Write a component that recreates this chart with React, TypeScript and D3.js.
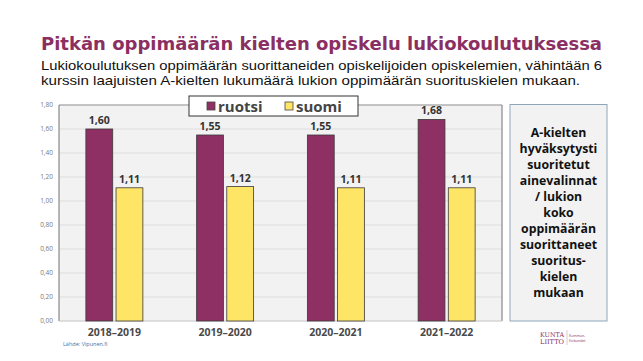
import React from "react";
import * as d3 from "d3";

const categories = ["2018–2019", "2019–2020", "2020–2021", "2021–2022"];
const seriesNames = ["ruotsi", "suomi"];
const ruotsiValues = [1.6, 1.55, 1.55, 1.68];
const suomiValues = [1.11, 1.12, 1.11, 1.11];
const yTicks = [0, 0.2, 0.4, 0.6, 0.8, 1.0, 1.2, 1.4, 1.6, 1.8];
const titleText = "Pitkän oppimäärän kielten opiskelu lukiokoulutuksessa";
const subtitleLines = [
  "Lukiokoulutuksen oppimäärän suorittaneiden opiskelijoiden opiskelemien, vähintään 6",
  "kurssin laajuisten A-kielten lukumäärä lukion oppimäärän suorituskielen mukaan.",
];
const noteLines = [
  "A-kielten",
  "hyväksytysti",
  "suoritetut",
  "ainevalinnat",
  "/ lukion",
  "koko",
  "oppimäärän",
  "suorittaneet",
  "suoritus-",
  "kielen",
  "mukaan",
];
const sourceText = "Lähde: Vipunen.fi";

const colors = ["#8E3063", "#FFE566"];
const fmt = (v: number) => v.toFixed(2).replace(".", ",");

export default function App() {
  const W = 643, H = 361;
  const left = 59, right = 502, top = 105, bottom = 321;
  const x0 = d3.scaleBand<string>().domain(categories).range([left, right]).paddingInner(0).paddingOuter(0);
  const x1 = d3.scaleBand<string>().domain(seriesNames).range([0, 57]).paddingInner(0.11);
  const y = d3.scaleLinear().domain([0, 1.8]).range([bottom, top]);
  const series = [ruotsiValues, suomiValues];
  const groupOffset = (x0.bandwidth() - 57) / 2;

  return (
    <svg width={W} height={H} style={{ position: "absolute", left: 0, top: 0 }} xmlns="http://www.w3.org/2000/svg">
      <rect x={0} y={0} width={W} height={H} fill="#ffffff" />
      <text x={41} y={50} fontFamily="'DejaVu Sans', sans-serif" fontWeight="bold" fontSize={18} fill="#8B2F62" textLength={561} lengthAdjust="spacingAndGlyphs">{titleText}</text>
      {subtitleLines.map((l, i) => (
        <text key={i} x={41} y={69.5 + i * 15} fontFamily="'Liberation Sans', Arial, sans-serif" fontSize={13} fill="#111" textLength={i === 0 ? 561 : 539} lengthAdjust="spacingAndGlyphs">{l}</text>
      ))}

      <rect x={left} y={top} width={right - left} height={bottom - top} fill="#F2F2F2" />
      {yTicks.map((t) => (
        <g key={t}>
          <line x1={left} x2={right} y1={y(t)} y2={y(t)} stroke="#DEDEDE" strokeWidth={1} />
          <text x={53} y={y(t) + 2.3} textAnchor="end" fontFamily="'Open Sans', sans-serif" fontSize={6.5} fill="#7a7a7a">{fmt(t)}</text>
        </g>
      ))}
      <line x1={left} x2={right} y1={top} y2={top} stroke="#999" strokeWidth={1} />
      <line x1={left} x2={left} y1={top} y2={bottom} stroke="#888" strokeWidth={1.2} />
      <line x1={right} x2={right} y1={top} y2={bottom} stroke="#888" strokeWidth={1.2} />
      <line x1={left} x2={right} y1={bottom} y2={bottom} stroke="#D0D0D0" strokeWidth={1} />

      {categories.map((c, ci) => (
        <g key={c} transform={`translate(${(x0(c) as number) + groupOffset},0)`}>
          {seriesNames.map((s, si) => {
            const v = series[si][ci];
            const bx = x1(s) as number;
            return (
              <g key={s}>
                <rect x={bx} y={y(v)} width={x1.bandwidth()} height={bottom - y(v)} fill={colors[si]} stroke="#3a3a3a" strokeWidth={0.8} />
                <text x={bx + x1.bandwidth() / 2} y={y(v) - 5} textAnchor="middle" fontFamily="'Open Sans', sans-serif" fontWeight="bold" fontSize={10.5} fill="#333">{fmt(v)}</text>
              </g>
            );
          })}
        </g>
      ))}
      {categories.map((c) => (
        <text key={c} x={(x0(c) as number) + x0.bandwidth() / 2} y={336} textAnchor="middle" fontFamily="'Open Sans', sans-serif" fontWeight="bold" fontSize={10.5} fill="#4a4a4a">{c}</text>
      ))}

      <rect x={189} y={96} width={169} height={20} fill="#ffffff" stroke="#333" strokeWidth={1} />
      {seriesNames.map((s, i) => (
        <g key={s} transform={`translate(${i === 0 ? 207 : 285},0)`}>
          <rect x={0} y={102} width={8} height={8} fill={colors[i]} stroke="#444" strokeWidth={0.8} />
          <text x={11} y={111.5} fontFamily="'Open Sans', sans-serif" fontWeight="bold" fontSize={15} fill="#444">{s}</text>
        </g>
      ))}

      <rect x={510} y={104.5} width={97} height={216.5} fill="#F2F2F2" stroke="#8FA6BA" strokeWidth={1} />
      {noteLines.map((l, i) => (
        <text key={i} x={558.5} y={137 + i * 16} textAnchor="middle" fontFamily="'Open Sans', sans-serif" fontWeight="bold" fontSize={12.3} fill="#111">{l}</text>
      ))}

      <text x={63} y={345.5} fontFamily="'Open Sans', sans-serif" fontSize={5.5} fill="#4a6fa5">{sourceText}</text>

      <text x={540} y={336.5} fontFamily="'DejaVu Serif', serif" fontSize={6.5} fill="#8B2F62" textLength={24} lengthAdjust="spacingAndGlyphs">KUNTA</text>
      <text x={540} y={344} fontFamily="'DejaVu Serif', serif" fontSize={6.5} fill="#8B2F62" textLength={24} lengthAdjust="spacingAndGlyphs">LIITTO</text>
      <line x1={567} x2={567} y1={330} y2={345} stroke="#c9a5b8" strokeWidth={0.6} />
      <text x={569} y={336.5} fontFamily="'Open Sans', sans-serif" fontSize={3.5} fill="#8B2F62">Kommun-</text>
      <text x={569} y={342} fontFamily="'Open Sans', sans-serif" fontSize={3.5} fill="#8B2F62">förbundet</text>
    </svg>
  );
}
